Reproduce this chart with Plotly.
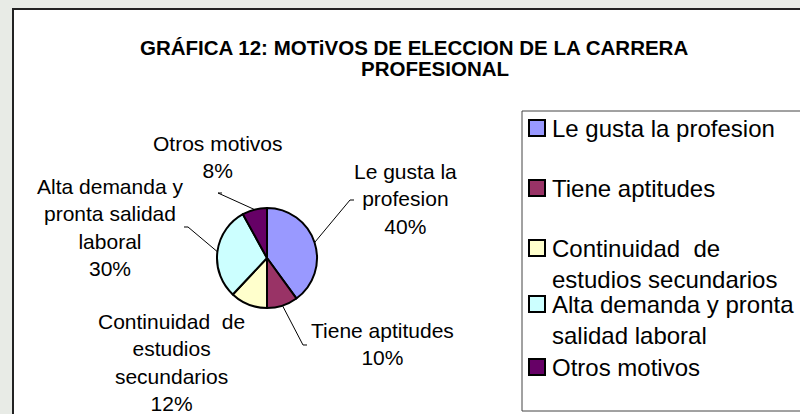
import math
import plotly.graph_objects as go

# ---------------- data ----------------
categories = [
    "Le gusta la profesion",
    "Tiene aptitudes",
    "Continuidad  de estudios secundarios",
    "Alta demanda y pronta salidad laboral",
    "Otros motivos",
]
values = [40, 10, 12, 30, 8]
colors = ["#9999FF", "#993366", "#FFFFCC", "#CCFFFF", "#660066"]

pie_label_text = [
    "Le gusta la<br>profesion",
    "Tiene aptitudes",
    "Continuidad  de<br>estudios<br>secundarios",
    "Alta demanda y<br>pronta salidad<br>laboral",
    "Otros motivos",
]
legend_label_text = [
    "Le gusta la profesion",
    "Tiene aptitudes",
    "Continuidad  de<br>estudios secundarios",
    "Alta demanda y pronta<br>salidad laboral",
    "Otros motivos",
]
title_lines = ["GRÁFICA 12: MOTiVOS DE ELECCION DE LA CARRERA", "PROFESIONAL"]

# ---------------- layout helpers (pixels) ----------------
W, H = 800, 414
def px(x):
    return x / W
def py(y):
    return 1 - y / H

CX, CY, R = 267, 258, 50          # pie centre and radius in px
LABEL_FONT = 21
LEG_FONT = 24
FONT = "Liberation Sans, Arial, sans-serif"

# label centre positions (px): x centre, y centre
label_pos = [(405, 199), (382, 344), (171, 362), (110, 227), (218, 157)]
# leader line end points (px) and tick direction; None = no leader line
leader_end = [(350, 200, 4), (303, 345, 4), None, (188, 227, -4), (218, 193, 4)]

fig = go.Figure()
fig.add_trace(go.Pie(
    labels=categories,
    values=values,
    sort=False,
    direction="clockwise",
    rotation=0,
    marker=dict(colors=colors, line=dict(color="black", width=2)),
    textinfo="none",
    hoverinfo="label+percent",
    showlegend=False,
    domain=dict(x=[px(CX - R), px(CX + R)], y=[py(CY + R), py(CY - R)]),
))

shapes = []
annotations = []

# chart frame
shapes.append(dict(type="rect", xref="paper", yref="paper",
                   x0=px(13), x1=1.05, y0=-0.05, y1=py(9),
                   line=dict(color="#222222", width=2), fillcolor="white", layer="below"))
# legend frame
shapes.append(dict(type="rect", xref="paper", yref="paper",
                   x0=px(522), x1=1.05, y0=py(411), y1=py(111),
                   line=dict(color="#444444", width=1), fillcolor="white", layer="below"))

# title
annotations.append(dict(text="<b>%s</b>" % title_lines[0], x=px(414), y=py(47),
                        xref="paper", yref="paper", showarrow=False,
                        xanchor="center", yanchor="middle",
                        font=dict(family=FONT, size=20.5, color="black")))
annotations.append(dict(text="<b>%s</b>" % title_lines[1], x=px(435), y=py(68),
                        xref="paper", yref="paper", showarrow=False,
                        xanchor="center", yanchor="middle",
                        font=dict(family=FONT, size=20.5, color="black")))

# pie data labels + leader lines
total = sum(values)
cum = 0
for i, v in enumerate(values):
    mid = (cum + v / 2) / total * 2 * math.pi
    cum += v
    pct = round(v / total * 100)
    lx, ly = label_pos[i]
    annotations.append(dict(text="%s<br>%d%%" % (pie_label_text[i], pct),
                            x=px(lx), y=py(ly), xref="paper", yref="paper",
                            showarrow=False, xanchor="center", yanchor="middle",
                            align="center",
                            font=dict(family=FONT, size=LABEL_FONT, color="black")))
    if leader_end[i] is not None:
        sx = CX + R * math.sin(mid)
        sy = CY - R * math.cos(mid)
        ex, ey, tick = leader_end[i]
        path = "M %f,%f L %f,%f L %f,%f" % (px(sx), py(sy), px(ex), py(ey), px(ex + tick), py(ey))
        shapes.append(dict(type="path", xref="paper", yref="paper", path=path,
                           line=dict(color="black", width=1)))

# legend (manual)
leg_first_line_y = [128, 188, 248, 304, 367]
LEG_LINE = LEG_FONT * 1.3
for i, name in enumerate(legend_label_text):
    y0 = leg_first_line_y[i]
    nlines = name.count("<br>") + 1
    shapes.append(dict(type="rect", xref="paper", yref="paper",
                       x0=px(529), x1=px(545), y0=py(y0 + 8), y1=py(y0 - 8),
                       line=dict(color="black", width=2), fillcolor=colors[i]))
    annotations.append(dict(text=name, x=px(550), y=py(y0 + (nlines - 1) * LEG_LINE / 2),
                            xref="paper", yref="paper", showarrow=False,
                            xanchor="left", yanchor="middle", align="left",
                            font=dict(family=FONT, size=LEG_FONT, color="black")))

fig.update_layout(
    width=W, height=H,
    margin=dict(l=0, r=0, t=0, b=0),
    paper_bgcolor="#e8ebe6",
    plot_bgcolor="white",
    shapes=shapes,
    annotations=annotations,
    showlegend=False,
)

fig.write_html("out.html", config={"displayModeBar": False},
               post_script="document.body.style.margin='0';")
